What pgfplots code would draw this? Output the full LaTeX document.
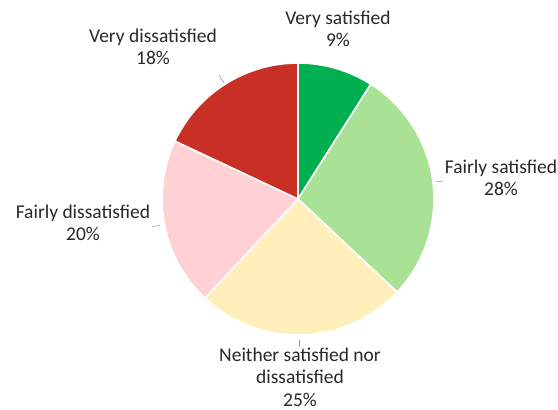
\documentclass[border=0pt]{standalone}
\usepackage{pgfplots}
\usepackage{pgfplotstable}
\pgfplotsset{compat=1.18}
\usepackage{fontspec}
\setmainfont{Carlito}
\definecolor{c0}{RGB}{0,176,80}
\definecolor{c1}{RGB}{169,226,148}
\definecolor{c2}{RGB}{255,239,187}
\definecolor{c3}{RGB}{255,208,212}
\definecolor{c4}{RGB}{200,48,38}
\definecolor{txt}{RGB}{40,40,40}
\pgfplotstableread{
idx value
0 9
1 28
2 25
3 20
4 18
}\piedata
\begin{document}
\begin{tikzpicture}
\begin{axis}[width=558pt,height=410pt,scale only axis,
  xmin=0,xmax=558,ymin=0,ymax=410,hide axis,clip=false]
\path (axis cs:0,0) rectangle (axis cs:558,410);
\def\cum{0}
\pgfplotsforeachungrouped \i in {0,...,4}{%
  \pgfplotstablegetelem{\i}{value}\of\piedata
  \let\v\pgfplotsretval
  \pgfmathsetmacro\a{90-3.6*\cum}%
  \pgfmathsetmacro\b{90-3.6*(\cum+\v)}%
  \pgfmathsetmacro\newcum{\cum+\v}%
  \global\let\cum\newcum
  \edef\temp{\noexpand\fill[fill=c\i, draw=white, line width=1.6pt, line join=round] (axis cs:298,211) -- ++(\a:136pt) arc[start angle=\a, end angle=\b, radius=136pt] -- cycle;}%
  \temp
}
\tikzset{lab/.style={align=center,font=\fontsize{19.5}{22.5}\selectfont,text=txt,inner sep=0pt}}
\node[lab] at (axis cs:338,381) {Very satisfied\\9\%};
\node[lab] at (axis cs:501,232) {Fairly satisfied\\28\%};
\node[lab] at (axis cs:300,33) {Neither satisfied nor\\dissatisfied\\25\%};
\node[lab] at (axis cs:83,187) {Fairly dissatisfied\\20\%};
\node[lab] at (axis cs:153,363) {Very dissatisfied\\18\%};
\draw[gray!80,line width=0.6pt] (axis cs:436,228) -- (axis cs:443,229);
\draw[gray!80,line width=0.6pt] (axis cs:299,70) -- (axis cs:299,63);
\draw[gray!80,line width=0.6pt] (axis cs:160,185) -- (axis cs:152,183);
\draw[gray!80,line width=0.6pt] (axis cs:224,327) -- (axis cs:219,335);
\end{axis}
\end{tikzpicture}
\end{document}
